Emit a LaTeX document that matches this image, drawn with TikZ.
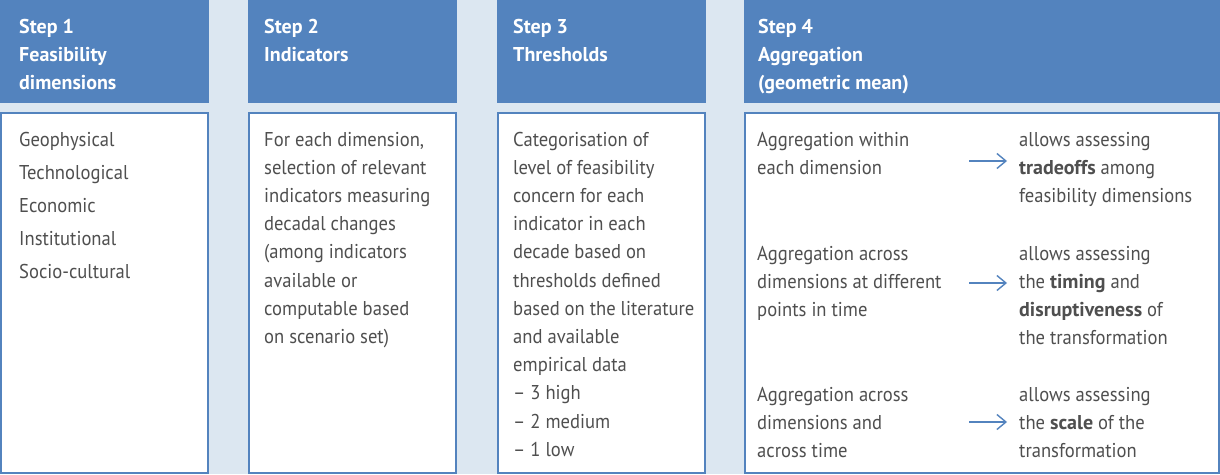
\documentclass[tikz,border=0pt]{standalone}
\usepackage{fontspec}
\setmainfont{PT Sans}[FakeStretch=0.93]
\newfontfamily\boldpt{PT Sans Bold}
\newcommand\bw[1]{{\boldpt #1}}
\usetikzlibrary{arrows.meta}
\definecolor{hdr}{HTML}{5383BE}
\definecolor{bg}{HTML}{DCE7F1}
\definecolor{txt}{HTML}{4F4F4F}
\begin{document}
\begin{tikzpicture}[x=1pt,y=-1pt,
  hdrbox/.style={fill=hdr, draw=none},
  bodybox/.style={fill=white, draw=hdr, line width=2pt},
  hdrtext/.style={anchor=base west, inner sep=0pt, align=left, text=white, font=\fontsize{20}{28}\selectfont\boldpt},
  bodytext/.style={anchor=base west, inner sep=0pt, align=left, text=txt, font=\fontsize{20}{28.2}\selectfont},
  arr/.style={draw=hdr, line width=1.4pt, -{Straight Barb[length=9pt,width=15pt,line width=1.4pt]}}]
\fill[bg] (0,0) rectangle (1220,474);
\useasboundingbox (0,0) rectangle (1220,474);
% headers
\fill[hdrbox] (0,0) rectangle (209,103);
\fill[hdrbox] (248,0) rectangle (457,103);
\fill[hdrbox] (497,0) rectangle (706,103);
\fill[hdrbox] (744,0) rectangle (1220,103);
% bodies
\draw[bodybox] (1,112.5) rectangle (207.5,472.5);
\draw[bodybox] (249,112.5) rectangle (455.5,472.5);
\draw[bodybox] (498,112.5) rectangle (705,472.5);
\draw[bodybox] (745,112.5) rectangle (1218.5,472.5);
% header texts (anchored at baseline of last line)
\node[hdrtext] (h1) at (19,89) {Step 1\\Feasibility\\dimensions};
\node[hdrtext] (h2) at (264,61) {Step 2\\Indicators};
\node[hdrtext] (h3) at (513,61) {Step 3\\Thresholds};
\node[hdrtext] (h4) at (758,89) {Step 4\\Aggregation\\(geometric mean)};
% body texts
\node[bodytext, font=\fontsize{20}{33}\selectfont] (b1) at (19,278) {Geophysical\\Technological\\Economic\\Institutional\\Socio-cultural};
\node[bodytext] (b2) at (264,343.4) {For each dimension,\\selection of relevant\\indicators measuring\\decadal changes\\(among indicators\\available or\\computable based\\on scenario set)};
\node[bodytext] (b3) at (513,456.2) {Categorisation of\\level of feasibility\\concern for each\\indicator in each\\decade based on\\thresholds defined\\based on the literature\\and available\\empirical data\\– 3 high\\– 2 medium\\– 1 low};
\node[bodytext] (l1) at (757,174.2) {Aggregation within\\each dimension};
\node[bodytext] (l2) at (757,316.4) {Aggregation across\\dimensions at different\\points in time};
\node[bodytext] (l3) at (757,457.4) {Aggregation across\\dimensions and\\across time};
\node[bodytext] (r1) at (1019,202.4) {allows assessing\\\bw{tradeoffs} among\\feasibility dimensions};
\node[bodytext] (r2) at (1019,344.6) {allows assessing\\the \bw{timing} and\\\bw{disruptiveness} of\\the transformation};
\node[bodytext] (r3) at (1019,457.4) {allows assessing\\the \bw{scale} of the\\transformation};
% arrows
\coordinate (a1s) at (969,161); \coordinate (a1e) at (1007,161);
\coordinate (a2s) at (969,283); \coordinate (a2e) at (1007,283);
\coordinate (a3s) at (969,422); \coordinate (a3e) at (1007,422);
\draw[arr] (a1s) -- (a1e);
\draw[arr] (a2s) -- (a2e);
\draw[arr] (a3s) -- (a3e);
\end{tikzpicture}
\end{document}
